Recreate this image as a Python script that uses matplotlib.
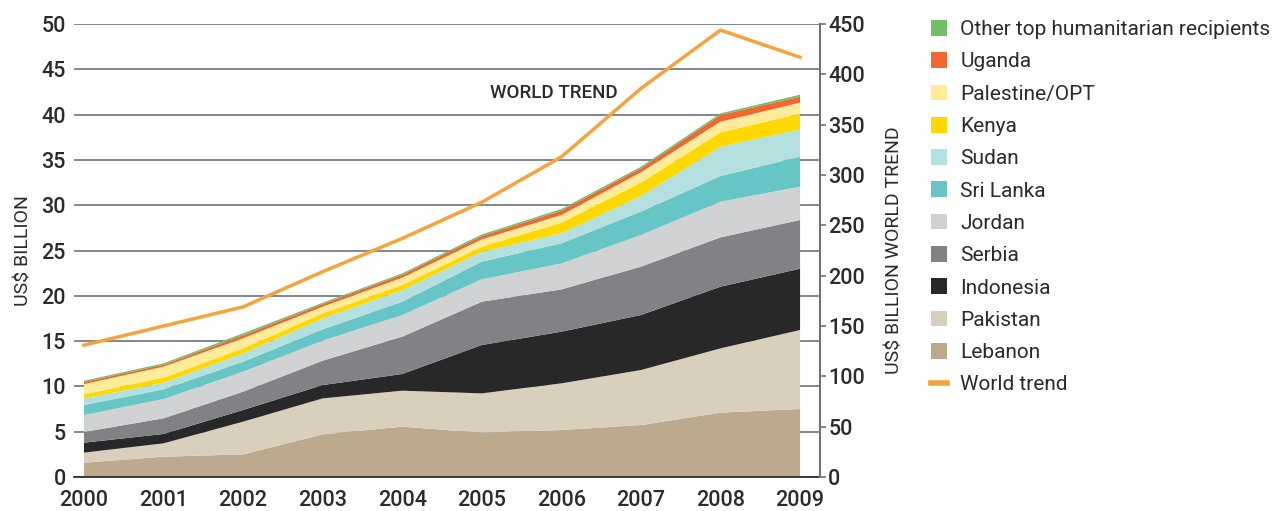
import matplotlib.pyplot as plt
from matplotlib.patches import Patch
from matplotlib.lines import Line2D

plt.rcParams['font.family'] = ['Roboto', 'DejaVu Sans']

years = list(range(2000, 2010))

# humanitarian aid by recipient, US$ billion
lebanon = [1.58, 2.24, 2.50, 4.71, 5.56, 4.89, 5.19, 5.74, 7.10, 7.51]
pakistan = [1.11, 1.48, 3.61, 3.97, 3.97, 4.34, 5.15, 6.07, 7.10, 8.72]
indonesia = [1.10, 1.03, 1.29, 1.47, 1.84, 5.34, 5.70, 6.07, 6.81, 6.76]
serbia = [1.18, 1.73, 2.02, 2.69, 4.12, 4.78, 4.67, 5.34, 5.44, 5.38]
jordan = [1.87, 2.13, 2.21, 2.21, 2.39, 2.47, 2.87, 3.49, 3.94, 3.68]
sri_lanka = [1.11, 1.07, 1.10, 1.25, 1.47, 1.95, 2.21, 2.58, 2.83, 3.31]
sudan = [0.73, 0.73, 0.92, 1.21, 1.29, 1.10, 1.10, 1.73, 3.24, 3.01]
kenya = [0.44, 0.55, 0.55, 0.55, 0.55, 0.55, 1.18, 1.47, 1.58, 1.73]
palestine = [1.14, 1.22, 1.11, 0.74, 0.81, 0.81, 0.85, 1.14, 1.18, 1.22]
uganda = [0.23, 0.22, 0.33, 0.30, 0.33, 0.37, 0.48, 0.44, 0.74, 0.66]
other = [0.14, 0.15, 0.22, 0.14, 0.15, 0.18, 0.18, 0.18, 0.18, 0.22]

# world total, US$ billion (right axis)
world_trend = [131, 150, 169, 204, 237, 273, 318, 386, 444, 417]

series = [lebanon, pakistan, indonesia, serbia, jordan, sri_lanka,
          sudan, kenya, palestine, uganda, other]
names = ['Lebanon', 'Pakistan', 'Indonesia', 'Serbia', 'Jordan', 'Sri Lanka',
         'Sudan', 'Kenya', 'Palestine/OPT', 'Uganda',
         'Other top humanitarian recipients']
colors = ['#bdaa8e', '#d9cfbd', '#282828', '#818286', '#d1d2d4', '#67c6c5',
          '#b4e0df', '#ffd800', '#ffec9a', '#f26633', '#72bf68']
trend_color = '#f7a23a'
text_color = '#2b2b2b'
grid_color = '#5f686c'

fig = plt.figure(figsize=(12.81, 5.11), dpi=100)
ax = fig.add_axes([0.0578, 0.0665, 0.5823, 0.8865])

ax.stackplot(years, series, colors=colors, linewidth=0, zorder=2)
ax.set_xlim(1999.875, 2009.25)
ax.set_ylim(0, 50)
ax.set_yticks(range(0, 51, 5))
ax.set_xticks(years)
ax.yaxis.grid(True, color=grid_color, lw=1.1)
ax.set_axisbelow(True)
for s in ['left', 'top', 'right']:
    ax.spines[s].set_visible(False)
ax.spines['bottom'].set_color('#222222')
ax.spines['bottom'].set_linewidth(1.2)
ax.tick_params(axis='y', length=0, pad=6, labelsize=15.5, labelcolor=text_color)
ax.tick_params(axis='x', length=0, pad=9, labelsize=15.5, labelcolor=text_color)
for lbl in ax.get_xticklabels() + ax.get_yticklabels():
    lbl.set_fontweight('medium')
ax.set_ylabel('US$ BILLION', fontsize=14, color=text_color, labelpad=6)

ax2 = ax.twinx()
ax2.plot(years, world_trend, color=trend_color, lw=2.5, zorder=5)
ax2.set_ylim(0, 450)
ax2.set_yticks(range(0, 451, 50))
for s in ['left', 'top', 'bottom']:
    ax2.spines[s].set_visible(False)
ax2.spines['right'].set_color('#6d7478')
ax2.spines['right'].set_linewidth(1.5)
ax2.tick_params(axis='y', direction='out', length=4, width=1.2, color='#6d7478',
                pad=2, labelsize=15.5, labelcolor=text_color)
for lbl in ax2.get_yticklabels():
    lbl.set_fontweight('medium')
ax2.set_ylabel('US$ BILLION WORLD TREND', fontsize=14, color=text_color, labelpad=15)

ax.text(2005.1, 42.4, 'WORLD TREND', fontsize=13.5, fontweight='medium',
        color=text_color, ha='left', va='center', zorder=6)

handles = [Patch(facecolor=c, edgecolor='none') for c in colors[::-1]]
handles.append(Line2D([], [], color=trend_color, lw=4))
labels = names[::-1] + ['World trend']
fig.legend(handles, labels, loc='upper left', bbox_to_anchor=(0.7268, 0.961),
           frameon=False, fontsize=15, handlelength=0.78, handleheight=0.78,
           handletextpad=0.62, labelspacing=0.635, borderpad=0, borderaxespad=0,
           labelcolor=text_color)

fig.savefig('out.png', dpi=100)
